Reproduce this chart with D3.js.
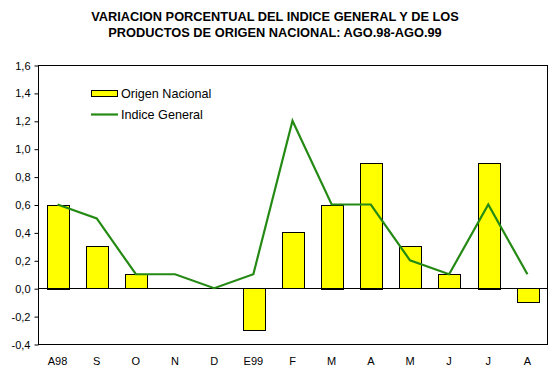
<!DOCTYPE html>
<html><head><meta charset="utf-8">
<script src="https://cdn.jsdelivr.net/npm/d3@7"></script>
<style>body{margin:0;background:#fff}svg{display:block}text{font-family:"Liberation Sans",Arial,sans-serif}</style>
</head><body>
<script>
const categories = ["A98","S","O","N","D","E99","F","M","A","M","J","J","A"];
const origenNacional = [0.6,0.3,0.1,0,0,-0.3,0.4,0.6,0.9,0.3,0.1,0.9,-0.1];
const indiceGeneral = [0.6,0.5,0.1,0.1,0.0,0.1,1.2,0.6,0.6,0.2,0.1,0.6,0.1];
const yTicks = [-0.4,-0.2,0,0.2,0.4,0.6,0.8,1.0,1.2,1.4,1.6];
const titleLines = ["VARIACION PORCENTUAL DEL INDICE GENERAL Y DE LOS","PRODUCTOS DE ORIGEN NACIONAL: AGO.98-AGO.99"];

const W=551,H=391, L=38, R=547, T=65, B=344;
const svg=d3.select("body").append("svg").attr("width",W).attr("height",H);
const x=d3.scaleBand().domain(d3.range(categories.length)).range([L,R]).paddingInner(0.45).paddingOuter(0.225);
const xc=d3.scaleBand().domain(d3.range(categories.length)).range([L,R]);
const y=d3.scaleLinear().domain([-0.4,1.6]).range([B,T]);
const green="#248a14";

svg.selectAll("text.title").data(titleLines).join("text")
 .attr("x",275).attr("y",(d,i)=>21+i*16).attr("text-anchor","middle")
 .attr("font-size",12.8).attr("font-weight","bold").text(d=>d);

// bars
svg.selectAll("rect.bar").data(origenNacional).join("rect")
 .attr("x",(d,i)=>Math.round(x(i))+0.5).attr("width",Math.round(x.bandwidth()))
 .attr("y",d=>Math.round(y(Math.max(0,d)))+0.5).attr("height",d=>Math.round(Math.abs(y(d)-y(0))))
 .attr("fill","#ffff00").attr("stroke","#000").attr("stroke-width",1)
 .style("display",d=>d===0?"none":null);

// zero line
svg.append("line").attr("x1",L).attr("x2",R).attr("y1",Math.round(y(0))+0.5).attr("y2",Math.round(y(0))+0.5).attr("stroke","#000");

// line
svg.append("path").datum(indiceGeneral)
 .attr("d",d3.line().x((d,i)=>xc(i)+xc.bandwidth()/2).y(d=>y(d)))
 .attr("fill","none").attr("stroke",green).attr("stroke-width",2.2);

// frame
svg.append("rect").attr("x",L+0.5).attr("y",T+0.5).attr("width",R-L).attr("height",B-T).attr("fill","none").attr("stroke","#000");

// y axis
const ya=svg.append("g").attr("transform",`translate(${L+0.5},0.5)`)
 .call(d3.axisLeft(y).tickValues(yTicks).tickSize(4).tickPadding(4).tickFormat(d=>d3.format(".1f")(d).replace(".",",").replace("−","-")));
ya.select(".domain").remove();
ya.selectAll("text").attr("font-size",11).attr("font-family","Liberation Sans, Arial, sans-serif").attr("fill","#000");
ya.selectAll("line").attr("stroke","#000");

// x labels
svg.selectAll("text.xl").data(categories).join("text")
 .attr("x",(d,i)=>xc(i)+xc.bandwidth()/2).attr("y",365).attr("text-anchor","middle")
 .attr("font-size",11).text(d=>d);

// legend
const lg=svg.append("g");
lg.append("rect").attr("x",91.5).attr("y",90.5).attr("width",26).attr("height",6).attr("fill","#ffff00").attr("stroke","#000");
lg.append("text").attr("x",121).attr("y",98).attr("font-size",12.6).text("Origen Nacional");
lg.append("line").attr("x1",91).attr("x2",118).attr("y1",114.5).attr("y2",114.5).attr("stroke",green).attr("stroke-width",2.2);
lg.append("text").attr("x",121).attr("y",119).attr("font-size",12.6).text("Indice General");
</script>
</body></html>
